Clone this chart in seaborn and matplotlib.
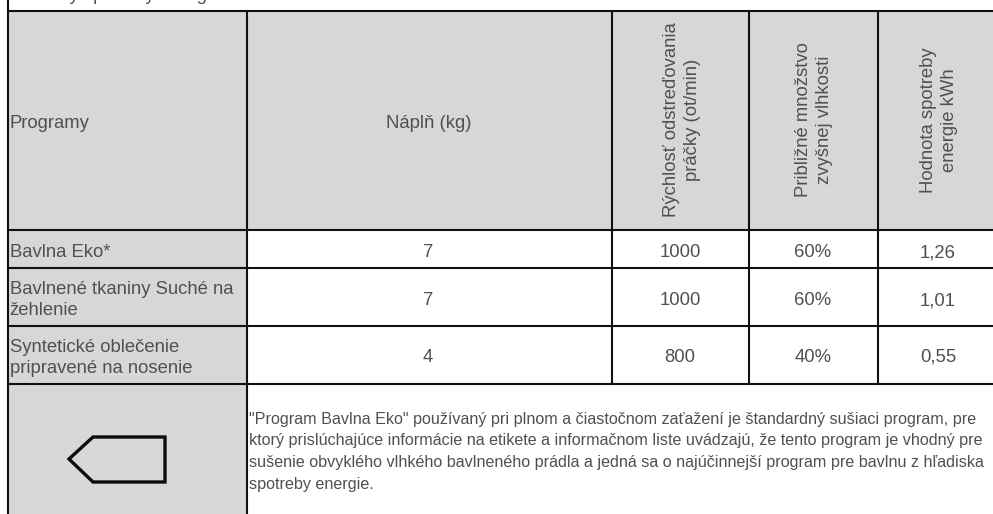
import matplotlib
matplotlib.use("Agg")
import matplotlib.pyplot as plt
from matplotlib.patches import Rectangle, Polygon
import seaborn as sns

caption = "Hodnoty spotreby energie"
header_first = ["Programy", "Náplň (kg)"]
header_rotated = ["Rýchlosť odstreďovania\npráčky (ot/min)",
                  "Približné množstvo\nzvyšnej vlhkosti",
                  "Hodnota spotreby\nenergie kWh"]
programs = [["Bavlna Eko*"],
            ["Bavlnené tkaniny Suché na", "žehlenie"],
            ["Syntetické oblečenie", "pripravené na nosenie"]]
loads = ["7", "7", "4"]
spins = ["1000", "1000", "800"]
moisture = ["60%", "60%", "40%"]
energy = ["1,26", "1,01", "0,55"]
note_lines = ['"Program Bavlna Eko" používaný pri plnom a čiastočnom zaťažení je štandardný sušiaci program, pre',
              'ktorý prislúchajúce informácie na etikete a informačnom liste uvádzajú, že tento program je vhodný pre',
              'sušenie obvyklého vlhkého bavlneného prádla a jedná sa o najúčinnejší program pre bavlnu z hľadiska',
              'spotreby energie.']

sns.set_theme(style="white")
plt.rcParams["font.family"] = ["Liberation Sans", "DejaVu Sans"]

W, H = 993, 514
fig = plt.figure(figsize=(W / 100, H / 100), dpi=100)
ax = fig.add_axes([0, 0, 1, 1])
ax.set_xlim(0, W)
ax.set_ylim(H, 0)
ax.axis("off")

col_x = [8, 246.5, 611.5, 748.5, 877.5, 1000]
row_y = [10.5, 229.5, 268, 325.5, 384, 520]
GREY = "#d7d7d7"
INK = "#111111"
TXT = "#505050"
FS = 13.3
LW = 1.5

ax.add_patch(Rectangle((col_x[0], row_y[0]), col_x[5] - col_x[0], row_y[1] - row_y[0],
                       fc=GREY, ec="none"))
ax.add_patch(Rectangle((col_x[0], row_y[1]), col_x[1] - col_x[0], row_y[5] - row_y[1],
                       fc=GREY, ec="none"))

for y in row_y[:5]:
    ax.plot([col_x[0], W], [y, y], color=INK, lw=LW, solid_capstyle="butt")
ax.plot([col_x[0], col_x[0]], [0, H], color=INK, lw=LW, solid_capstyle="butt")
ax.plot([col_x[1], col_x[1]], [row_y[0], H], color=INK, lw=LW, solid_capstyle="butt")
for x in col_x[2:5]:
    ax.plot([x, x], [row_y[0], row_y[4]], color=INK, lw=LW, solid_capstyle="butt")

ax.text(10, 0, caption, fontsize=FS, color=TXT, va="baseline", ha="left", clip_on=True)

ax.text(9.5, 128, header_first[0], fontsize=FS, color=TXT, va="baseline", ha="left")
ax.text(429, 128, header_first[1], fontsize=FS, color=TXT, va="baseline", ha="center")
for cx, label in zip([682, 814, 939], header_rotated):
    ax.text(cx, 120, label, fontsize=FS, color=TXT, rotation=90, va="center", ha="center",
            multialignment="center", linespacing=1.32)

line_baselines = [[257], [294, 315], [352, 373]]
row_baselines = [257, 305, 362]
for lines, ys in zip(programs, line_baselines):
    for line, y in zip(lines, ys):
        ax.text(9.5, y, line, fontsize=FS, color=TXT, va="baseline", ha="left")
for cx, column in zip([428, 680, 813, 938], [loads, spins, moisture, energy]):
    for y, value in zip(row_baselines, column):
        ax.text(cx, y, value, fontsize=FS, color=TXT, va="baseline", ha="center")

ax.add_patch(Polygon([(69, 459), (93, 437), (165, 437), (165, 482), (93, 482)], closed=True,
                     fc="none", ec="#0c0c0c", lw=2.4, joinstyle="miter"))

for y, line in zip([424, 445.5, 467, 489], note_lines):
    ax.text(249, y, line, fontsize=11.6, color=TXT, va="baseline", ha="left")

fig.savefig("out.png", dpi=100)
